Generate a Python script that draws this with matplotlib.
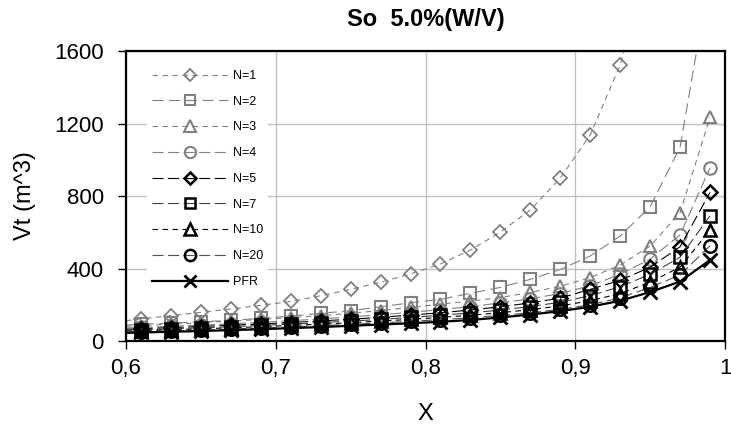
import numpy as np
import matplotlib
matplotlib.use("Agg")
import matplotlib.pyplot as plt

plt.rcParams['font.family'] = ['Liberation Sans', 'DejaVu Sans']

# conversion values; markers are drawn from 0.61 on
X = [0.60, 0.61, 0.63, 0.65, 0.67, 0.69, 0.71, 0.73, 0.75, 0.77, 0.79,
     0.81, 0.83, 0.85, 0.87, 0.89, 0.91, 0.93, 0.95, 0.97, 0.99]

# total volume Vt (m^3)
v_n1 = [112, 122, 140, 158, 177, 197, 218, 250, 285, 324, 370,
        425, 502, 601, 723, 899, 1137, 1523, 2150, 3400, 9000]
v_n2 = [88, 92, 99, 106, 114, 125, 137, 153, 167, 189, 211,
        230, 263, 296, 340, 395, 469, 579, 741, 1069, 2030]
v_n3 = [81, 85, 93, 101, 110, 119, 129, 140, 153, 168, 185,
        204, 220, 240, 268, 302, 350, 419, 524, 708, 1234]
v_n4 = [72, 75, 81, 88, 95, 103, 112, 122, 133, 145, 158,
        173, 190, 210, 233, 262, 305, 368, 452, 585, 956]
v_n5 = [65, 68, 74, 80, 87, 94, 102, 111, 120, 131, 143,
        156, 171, 189, 210, 237, 285, 335, 407, 520, 820]
v_n7 = [60, 62, 67, 73, 79, 86, 93, 101, 110, 119, 130,
        142, 155, 171, 190, 214, 250, 300, 368, 462, 691]
v_n10 = [55, 57, 62, 67, 73, 79, 86, 93, 101, 110, 119,
         130, 142, 156, 173, 194, 222, 262, 325, 407, 612]
v_n20 = [50, 52, 56, 61, 66, 72, 78, 85, 92, 100, 108,
         118, 128, 141, 156, 175, 200, 238, 296, 364, 526]
v_pfr = [45, 47, 51, 55, 60, 65, 71, 77, 84, 91, 98,
         106, 116, 130, 146, 165, 189, 222, 270, 328, 447]

labels = ['N=1', 'N=2', 'N=3', 'N=4', 'N=5', 'N=7', 'N=10', 'N=20', 'PFR']
series = [v_n1, v_n2, v_n3, v_n4, v_n5, v_n7, v_n10, v_n20, v_pfr]

x_ticks = [0.6, 0.7, 0.8, 0.9, 1.0]
x_ticklabels = ['0,6', '0,7', '0,8', '0,9', '1']
y_ticks = [0, 400, 800, 1200, 1600]

gray = '#808080'
styles = [
    dict(color=gray, ls=(0, (5, 4)), lw=0.8, marker='D', ms=7, mec=gray, mew=1.3),
    dict(color=gray, ls=(0, (10, 5)), lw=0.8, marker='s', ms=8.5, mec=gray, mew=1.5),
    dict(color=gray, ls=(0, (5, 4)), lw=0.8, marker='^', ms=9, mec=gray, mew=1.5),
    dict(color=gray, ls=(0, (10, 4)), lw=0.8, marker='o', ms=9, mec=gray, mew=1.5),
    dict(color='black', ls=(0, (10, 4)), lw=0.8, marker='D', ms=7, mec='black', mew=1.8),
    dict(color='#404040', ls=(0, (10, 4)), lw=0.8, marker='s', ms=8.5, mec='black', mew=1.8),
    dict(color='black', ls=(0, (5, 4)), lw=0.8, marker='^', ms=9, mec='black', mew=1.8),
    dict(color='#505050', ls=(0, (10, 4)), lw=0.8, marker='o', ms=9, mec='black', mew=1.8),
    dict(color='black', ls='-', lw=1.6, marker='x', ms=9.5, mec='black', mew=2.0),
]

fig = plt.figure(figsize=(7.31, 4.29), dpi=100)
ax = fig.add_axes([0.1724, 0.2051, 0.8194, 0.676])

for vals, lab, st in zip(series, labels, styles):
    ax.plot(X, vals, label=lab, mfc='none', markevery=slice(1, None), **st)

ax.set_xlim(0.6, 1.0)
ax.set_ylim(0, 1600)
ax.set_xticks(x_ticks)
ax.set_xticklabels(x_ticklabels)
ax.set_yticks(y_ticks)
ax.grid(True, color='#c0c0c0', lw=1.0)
ax.set_axisbelow(True)
for sp in ax.spines.values():
    sp.set_linewidth(1.6)
    sp.set_color('black')
ax.tick_params(axis='both', direction='out', length=6, width=1, labelsize=16)
ax.tick_params(axis='x', pad=6)
ax.tick_params(axis='y', pad=10)

ax.set_title('So  5.0%(W/V)', fontsize=17, fontweight='bold', pad=18)
ax.set_xlabel('X', fontsize=17)
ax.set_ylabel('Vt (m^3)', fontsize=17)
ax.xaxis.set_label_coords(0.5, -0.215)
ax.yaxis.set_label_coords(-0.15, 0.5)

leg = ax.legend(loc='upper left', bbox_to_anchor=(0.035, 0.952), borderaxespad=0,
                fontsize=9, handlelength=6.1, handletextpad=0.4, labelspacing=1.1,
                markerscale=0.9, frameon=True, fancybox=False, framealpha=1,
                borderpad=0.4)
leg.get_frame().set_edgecolor('none')
leg.get_frame().set_facecolor('white')

fig.savefig('out.png', dpi=100)
